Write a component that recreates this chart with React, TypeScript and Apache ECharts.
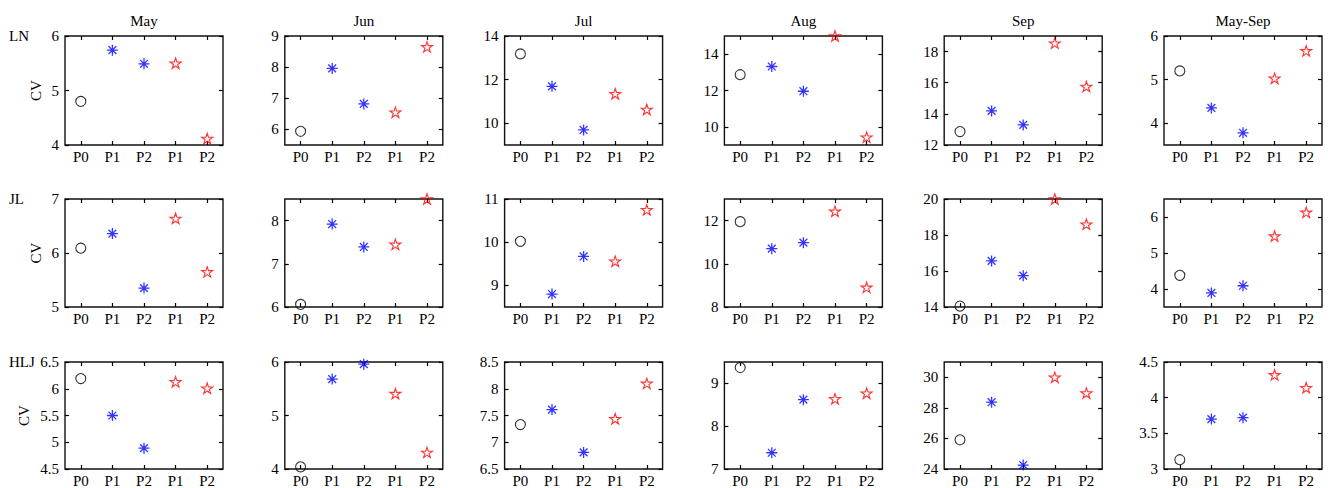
import React, { useEffect, useRef } from "react";
import * as echarts from "echarts";

const months = ["May", "Jun", "Jul", "Aug", "Sep", "May-Sep"];
const regions = ["LN", "JL", "HLJ"];
const categories = ["P0", "P1", "P2", "P1", "P2"];

// CV values per region, per period: [P0, P1(blue), P2(blue), P1(red), P2(red)]
const lnValues = [
  [4.8, 5.74, 5.49, 5.5, 4.12],
  [5.94, 7.96, 6.82, 6.55, 8.65],
  [13.18, 11.69, 9.69, 11.35, 10.63],
  [12.87, 13.32, 11.96, 15.0, 9.43],
  [12.86, 14.19, 13.29, 18.54, 15.76],
  [5.2, 4.35, 3.78, 5.03, 5.66],
];
const jlValues = [
  [6.09, 6.36, 5.35, 6.64, 5.65],
  [6.06, 7.92, 7.39, 7.45, 8.5],
  [10.02, 8.8, 9.67, 9.56, 10.75],
  [11.95, 10.7, 10.98, 12.43, 8.91],
  [14.05, 16.56, 15.74, 20.0, 18.6],
  [4.38, 3.89, 4.09, 5.47, 6.13],
];
const hljValues = [
  [6.19, 5.5, 4.89, 6.13, 6.01],
  [4.04, 5.68, 5.96, 5.41, 4.31],
  [7.33, 7.61, 6.81, 7.44, 8.1],
  [9.37, 7.38, 8.62, 8.64, 8.77],
  [25.91, 28.37, 24.26, 30.0, 28.97],
  [3.13, 3.7, 3.72, 4.32, 4.14],
];

// y-axis ranges [min, max]
const lnRanges = [[4, 6], [5.5, 9], [9, 14], [9, 15], [12, 19], [3.5, 6]];
const jlRanges = [[5, 7], [6, 8.5], [8.5, 11], [8, 13], [14, 20], [3.5, 6.5]];
const hljRanges = [[4.5, 6.5], [4, 6], [6.5, 8.5], [7, 9.5], [24, 31], [3, 4.5]];

// y tick labels
const lnTicks = [[4, 5, 6], [6, 7, 8, 9], [10, 12, 14], [10, 12, 14], [12, 14, 16, 18], [4, 5, 6]];
const jlTicks = [[5, 6, 7], [6, 7, 8], [9, 10, 11], [8, 10, 12], [14, 16, 18, 20], [4, 5, 6]];
const hljTicks = [[4.5, 5, 5.5, 6, 6.5], [4, 5, 6], [6.5, 7, 7.5, 8, 8.5], [7, 8, 9], [24, 26, 28, 30], [3, 3.5, 4, 4.5]];

const allValues = [lnValues, jlValues, hljValues];
const allRanges = [lnRanges, jlRanges, hljRanges];
const allTicks = [lnTicks, jlTicks, hljTicks];

const FONT = "'Liberation Serif', 'Times New Roman', serif";
const ASTERISK = "path://M0,5L10,5M5,0L5,10M1.46,1.46L8.54,8.54M8.54,1.46L1.46,8.54";
const PENTAGRAM =
  "path://M50,0L61.23,34.55L97.55,34.55L68.17,55.9L79.39,90.45L50,69.1L20.61,90.45L31.83,55.9L2.45,34.55L38.77,34.55Z";

export default function App() {
  const ref = useRef<HTMLDivElement>(null);

  useEffect(() => {
    if (!ref.current) return;
    const chart = echarts.init(ref.current, null, { renderer: "svg" });

    const rowTop = [36, 199, 362];
    const rowH = [109, 108, 107];
    const colLeft = (c: number) => 65 + c * 219.8;
    const W = 158;
    const nameGaps = [22, 22, 34];

    const grids: any[] = [];
    const xAxes: any[] = [];
    const yAxes: any[] = [];
    const series: any[] = [];
    const graphics: any[] = [];
    const topX: any[] = [];
    const rightY: any[] = [];
    const tickStyle = { color: "#000", width: 1.2 };

    for (let r = 0; r < 3; r++) {
      for (let c = 0; c < 6; c++) {
        const i = r * 6 + c;
        grids.push({
          left: colLeft(c),
          top: rowTop[r],
          width: W,
          height: rowH[r],
          show: true,
          borderColor: "#111",
          borderWidth: 1.4,
          backgroundColor: "#fff",
        });
        xAxes.push({
          type: "category",
          gridIndex: i,
          data: categories,
          boundaryGap: true,
          axisLine: { show: false },
          axisTick: { show: true, inside: true, length: 4, alignWithLabel: true, lineStyle: tickStyle },
          axisLabel: { color: "#000", fontFamily: FONT, fontSize: 15, margin: 4 },
          splitLine: { show: false },
        });
        topX.push({
          type: "category",
          gridIndex: i,
          position: "top",
          data: categories,
          boundaryGap: true,
          axisLine: { show: false },
          axisTick: { show: true, inside: true, length: 4, alignWithLabel: true, lineStyle: tickStyle },
          axisLabel: { show: false },
          splitLine: { show: false },
        });
        const [mn, mx] = allRanges[r][c];
        const ticks = allTicks[r][c];
        yAxes.push({
          type: "value",
          gridIndex: i,
          min: mn,
          max: mx,
          name: c === 0 ? "CV" : "",
          nameLocation: "middle",
          nameRotate: 90,
          nameGap: nameGaps[r],
          nameTextStyle: { color: "#000", fontFamily: FONT, fontSize: 15 },
          axisLine: { show: false },
          axisTick: { show: true, inside: true, length: 4, customValues: ticks, lineStyle: tickStyle },
          axisLabel: { color: "#000", fontFamily: FONT, fontSize: 15, margin: 6, customValues: ticks, showMinLabel: true, showMaxLabel: true },
          splitLine: { show: false },
        });
        rightY.push({
          type: "value",
          gridIndex: i,
          position: "right",
          min: mn,
          max: mx,
          axisLine: { show: false },
          axisTick: { show: true, inside: true, length: 4, customValues: ticks, lineStyle: tickStyle },
          axisLabel: { show: false, customValues: ticks },
          splitLine: { show: false },
        });

        const vals = allValues[r][c];
        series.push({
          type: "scatter",
          xAxisIndex: i,
          yAxisIndex: i,
          symbol: "circle",
          symbolSize: 10,
          itemStyle: { color: "rgba(0,0,0,0)", borderColor: "#000", borderWidth: 1.1 },
          data: [[0, vals[0]]],
          silent: true,
        });
        series.push({
          type: "scatter",
          xAxisIndex: i,
          yAxisIndex: i,
          symbol: ASTERISK,
          symbolSize: 11,
          itemStyle: { color: "#0000ff", borderColor: "#0000ff", borderWidth: 1.3 },
          data: [[1, vals[1]], [2, vals[2]]],
          silent: true,
        });
        series.push({
          type: "scatter",
          xAxisIndex: i,
          yAxisIndex: i,
          symbol: PENTAGRAM,
          symbolKeepAspect: true,
          symbolSize: 11,
          itemStyle: { color: "rgba(0,0,0,0)", borderColor: "#ff0000", borderWidth: 1.1 },
          data: [[3, vals[3]], [4, vals[4]]],
          silent: true,
        });
      }
    }

    months.forEach((m, c) => {
      graphics.push({
        type: "text",
        x: colLeft(c) + W / 2,
        y: 21,
        style: { text: m, fill: "#000", font: `15px ${FONT}`, textAlign: "center", textVerticalAlign: "middle" },
      });
    });
    regions.forEach((name, r) => {
      graphics.push({
        type: "text",
        x: 9,
        y: rowTop[r],
        style: { text: name, fill: "#000", font: `15px ${FONT}`, textAlign: "left", textVerticalAlign: "middle" },
      });
    });

    chart.setOption({
      animation: false,
      backgroundColor: "#fff",
      grid: grids,
      xAxis: xAxes.concat(topX),
      yAxis: yAxes.concat(rightY),
      series,
      graphic: graphics,
    });

    return () => chart.dispose();
  }, []);

  return (
    <div
      ref={ref}
      style={{ position: "absolute", left: 0, top: 0, width: 1337, height: 488, background: "#fff" }}
    />
  );
}
